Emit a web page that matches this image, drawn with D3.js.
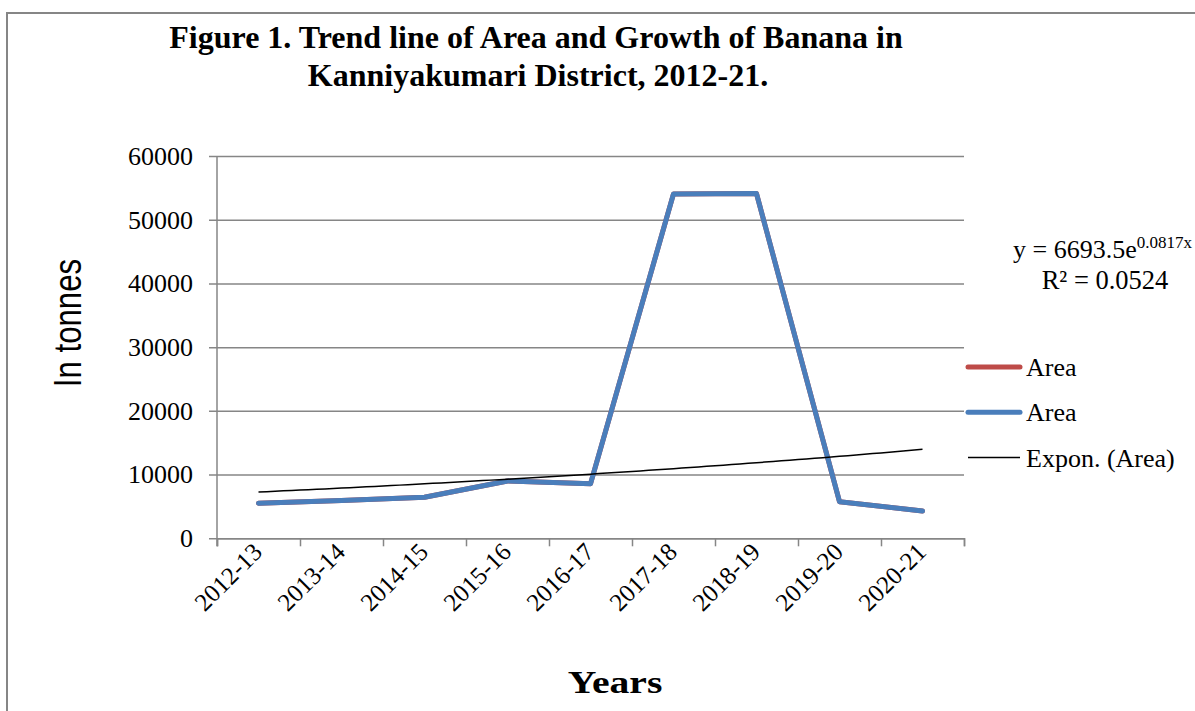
<!DOCTYPE html>
<html>
<head>
<meta charset="utf-8">
<script src="https://cdn.jsdelivr.net/npm/d3@7"></script>
<style>
  html, body { margin: 0; padding: 0; background: #fff; }
  svg { display: block; }
</style>
</head>
<body>
<svg id="chart" width="1195" height="711"></svg>
<script>
// Area under banana, Kanniyakumari District
const categories = ["2012-13", "2013-14", "2014-15", "2015-16", "2016-17",
                    "2017-18", "2018-19", "2019-20", "2020-21"];
const areaValues = [5500, 5950, 6450, 9000, 8550, 54050, 54100, 5750, 4300];
const yTicks = [0, 10000, 20000, 30000, 40000, 50000, 60000];

// Exponential trend line coefficients (y = a·e^(b·x), x = 1..n)
const trendA = 6693.5;
const trendB = 0.0817;
const trendR2 = 0.0524;

const legendItems = [
  { label: "Area", color: "#be4b48", width: 5 },
  { label: "Area", color: "#4a7ebb", width: 5 },
  { label: "Expon. (Area)", color: "#000000", width: 1.5 }
];

const serif = "'Liberation Serif', 'Times New Roman', serif";
const sans = "'Liberation Sans', Arial, sans-serif";
const gridColor = "#868686";

const svg = d3.select("#chart");

// Outer chart frame (runs past the right and bottom edges)
svg.append("rect")
  .attr("x", 7).attr("y", 13)
  .attr("width", 1300).attr("height", 800)
  .attr("fill", "#fff")
  .attr("stroke", gridColor).attr("stroke-width", 2);

const plot = { left: 217, right: 964, top: 156, bottom: 538.3 };

const x = d3.scaleBand().domain(categories).range([plot.left, plot.right]).padding(0);
const xIndex = d3.scaleLinear().domain([0.5, categories.length + 0.5]).range([plot.left, plot.right]);
const y = d3.scaleLinear().domain([0, 60000]).range([plot.bottom, plot.top]);

// Horizontal gridlines + y tick labels
const yAxis = d3.axisLeft(y)
  .tickValues(yTicks)
  .tickSize(-(plot.right - (plot.left - 8)))
  .tickPadding(16)
  .tickFormat(d3.format("d"));

const gy = svg.append("g")
  .attr("transform", `translate(${plot.left - 8},0)`)
  .call(yAxis);
gy.select(".domain").remove();
gy.selectAll(".tick line").attr("stroke", gridColor).attr("stroke-width", 1.5);
gy.selectAll(".tick text")
  .attr("font-family", serif).attr("font-size", 26).attr("fill", "#000");

// Vertical axis line
svg.append("line")
  .attr("x1", plot.left).attr("x2", plot.left)
  .attr("y1", plot.top).attr("y2", plot.bottom + 8)
  .attr("stroke", gridColor).attr("stroke-width", 1.5);

// Category boundary ticks along the bottom
const xBound = d3.axisBottom(xIndex)
  .tickValues(d3.range(0.5, categories.length + 1, 1))
  .tickSize(8)
  .tickFormat("");
const gx = svg.append("g")
  .attr("transform", `translate(0,${plot.bottom})`)
  .call(xBound);
gx.select(".domain").attr("stroke", gridColor).attr("stroke-width", 1.5);
gx.selectAll(".tick line").attr("stroke", gridColor).attr("stroke-width", 1.5);

// Rotated category labels
svg.append("g").selectAll("text")
  .data(categories)
  .join("text")
  .attr("transform", d => `translate(${x(d) + x.bandwidth() / 2 - 1},${plot.bottom + 9}) rotate(-45)`)
  .attr("text-anchor", "end")
  .attr("dy", "0.35em")
  .attr("font-family", serif).attr("font-size", 25).attr("fill", "#000")
  .text(d => d);

// Series lines (the red series sits beneath the blue one)
const line = d3.line()
  .x((d, i) => x(categories[i]) + x.bandwidth() / 2)
  .y(d => y(d));

svg.append("path")
  .datum(areaValues)
  .attr("d", line)
  .attr("fill", "none")
  .attr("stroke", legendItems[0].color).attr("stroke-width", 5)
  .attr("stroke-linejoin", "round").attr("stroke-linecap", "round");

svg.append("path")
  .datum(areaValues)
  .attr("d", line)
  .attr("fill", "none")
  .attr("stroke", legendItems[1].color).attr("stroke-width", 5)
  .attr("stroke-linejoin", "round").attr("stroke-linecap", "round");

// Exponential trend curve from its fitted equation
const trendPts = d3.range(1, categories.length + 0.001, 0.1)
  .map(t => [t, trendA * Math.exp(trendB * t)]);
svg.append("path")
  .datum(trendPts)
  .attr("d", d3.line().x(d => xIndex(d[0])).y(d => y(d[1])))
  .attr("fill", "none")
  .attr("stroke", "#000").attr("stroke-width", 1.5);

// Title
const title = svg.append("text")
  .attr("text-anchor", "middle")
  .attr("font-family", serif).attr("font-size", 32).attr("font-weight", "bold")
  .attr("fill", "#000");
title.append("tspan").attr("x", 536).attr("y", 48)
  .text("Figure 1. Trend line of Area and Growth of Banana in");
title.append("tspan").attr("x", 538).attr("y", 86)
  .text("Kanniyakumari District, 2012-21.");

// Axis titles
svg.append("text")
  .attr("transform", "translate(81,323) rotate(-90) scale(0.8,1)")
  .attr("text-anchor", "middle")
  .attr("font-family", sans).attr("font-size", 39).attr("fill", "#000")
  .text("In tonnes");

svg.append("text")
  .attr("transform", "translate(615,693) scale(1.28,1)")
  .attr("text-anchor", "middle")
  .attr("font-family", serif).attr("font-size", 31).attr("font-weight", "bold")
  .attr("fill", "#000")
  .text("Years");

// Trend equation label
const eq = svg.append("text")
  .attr("x", 1013).attr("y", 258)
  .attr("font-family", serif).attr("font-size", 26).attr("fill", "#000");
eq.append("tspan").text(`y = ${trendA}e`);
eq.append("tspan").attr("font-size", 17).attr("dy", -10).text(`${trendB}x`);

svg.append("text")
  .attr("x", 1105).attr("y", 289)
  .attr("text-anchor", "middle")
  .attr("font-family", serif).attr("font-size", 26.5).attr("fill", "#000")
  .text(`R² = ${trendR2}`);

// Legend
const legend = svg.append("g").selectAll("g")
  .data(legendItems)
  .join("g")
  .attr("transform", (d, i) => `translate(968,${367 + i * 45.3})`);
legend.append("line")
  .attr("x1", 0).attr("x2", 52)
  .attr("stroke", d => d.color).attr("stroke-width", d => d.width)
  .attr("stroke-linecap", d => d.width > 2 ? "round" : "butt");
legend.append("text")
  .attr("x", 58).attr("dy", "0.35em")
  .attr("font-family", serif).attr("font-size", 26).attr("fill", "#000")
  .text(d => d.label);
</script>
</body>
</html>
